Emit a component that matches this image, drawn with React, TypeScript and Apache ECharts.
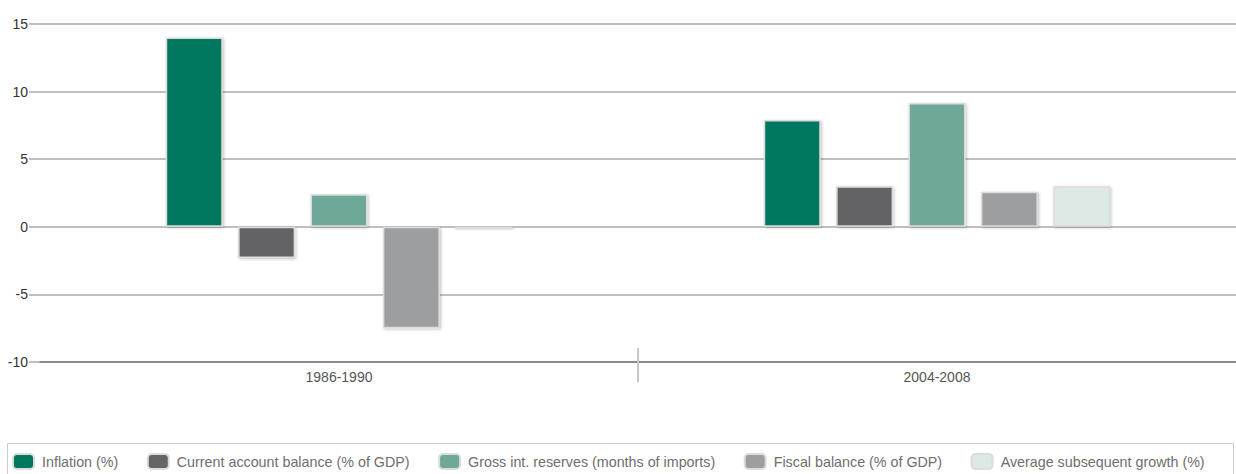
import React, { useEffect, useRef } from "react";
import * as echarts from "echarts";

const categories = ["1986-1990", "2004-2008"];
const seriesNames = [
  "Inflation (%)",
  "Current account balance (% of GDP)",
  "Gross int. reserves (months of imports)",
  "Fiscal balance (% of GDP)",
  "Average subsequent growth (%)",
];
const inflation = [14.0, 7.9];
const currentAccount = [-2.3, 3.0];
const reserves = [2.4, 9.15];
const fiscal = [-7.5, 2.6];
const growth = [-0.2, 3.0];
const colors = ["#00775f", "#636466", "#6da898", "#9d9e9f", "#dce9e5"];
const yTicks = { min: -10, max: 15, interval: 5 };

const FONT = "'Liberation Sans', Arial, sans-serif";

export default function App() {
  const ref = useRef<HTMLDivElement>(null);
  useEffect(() => {
    if (!ref.current) return;
    const chart = echarts.init(ref.current, null, { renderer: "svg" });
    const values = [inflation, currentAccount, reserves, fiscal, growth];
    chart.setOption({
      animation: false,
      textStyle: { fontFamily: FONT },
      grid: { left: 40, right: 0, top: 24, bottom: 112 },
      legend: {
        left: 7,
        top: 448,
        itemWidth: 21,
        itemHeight: 15,
        itemGap: 28.5,
        icon: "roundRect",
        textStyle: { fontSize: 14.3, color: "#6e6e6e", fontFamily: FONT, padding: [0, 0, 0, 3] },
        data: seriesNames,
      },
      xAxis: {
        type: "category",
        data: categories,
        axisLine: { onZero: false, lineStyle: { color: "#8a8a8a", width: 2 } },
        axisTick: { show: false },
        axisLabel: { color: "#555", fontSize: 14, margin: 8 },
      },
      yAxis: {
        type: "value",
        min: yTicks.min,
        max: yTicks.max,
        interval: yTicks.interval,
        axisLine: { show: false },
        axisTick: { show: true, length: 11, lineStyle: { color: "#aaa", width: 1.5 } },
        axisLabel: { color: "#333", fontSize: 14, margin: 12 },
        splitLine: { lineStyle: { color: "#aaa", width: 1.5 } },
      },
      series: seriesNames.map((name, i) => ({
        name,
        type: "bar",
        data: values[i],
        barWidth: 57,
        barGap: "27%",
        itemStyle: {
          color: colors[i],
          borderColor: "#dcdcdc",
          borderWidth: 1.5,
          shadowBlur: 3,
          shadowColor: "rgba(0,0,0,0.25)",
          shadowOffsetX: 1,
          shadowOffsetY: 1,
        },
      })),
    });
    const p0 = chart.convertToPixel({ xAxisIndex: 0 }, 0) as number;
    const p1 = chart.convertToPixel({ xAxisIndex: 0 }, 1) as number;
    const yBottom = chart.convertToPixel({ yAxisIndex: 0 }, yTicks.min) as number;
    const mid = (p0 + p1) / 2;
    chart.setOption({
      graphic: [
        {
          type: "line",
          shape: { x1: mid, y1: yBottom - 14, x2: mid, y2: yBottom + 20 },
          style: { stroke: "#c8c8c8", lineWidth: 2 },
          z: 10,
        },
        {
          type: "rect",
          shape: { x: 7.5, y: 443.5, width: 1226, height: 40 },
          style: { fill: "none", stroke: "#cccccc", lineWidth: 1 },
          z: -1,
        },
      ],
    });
    return () => chart.dispose();
  }, []);
  return (
    <div
      ref={ref}
      style={{ position: "absolute", left: 0, top: 0, width: 1236, height: 474 }}
    />
  );
}
